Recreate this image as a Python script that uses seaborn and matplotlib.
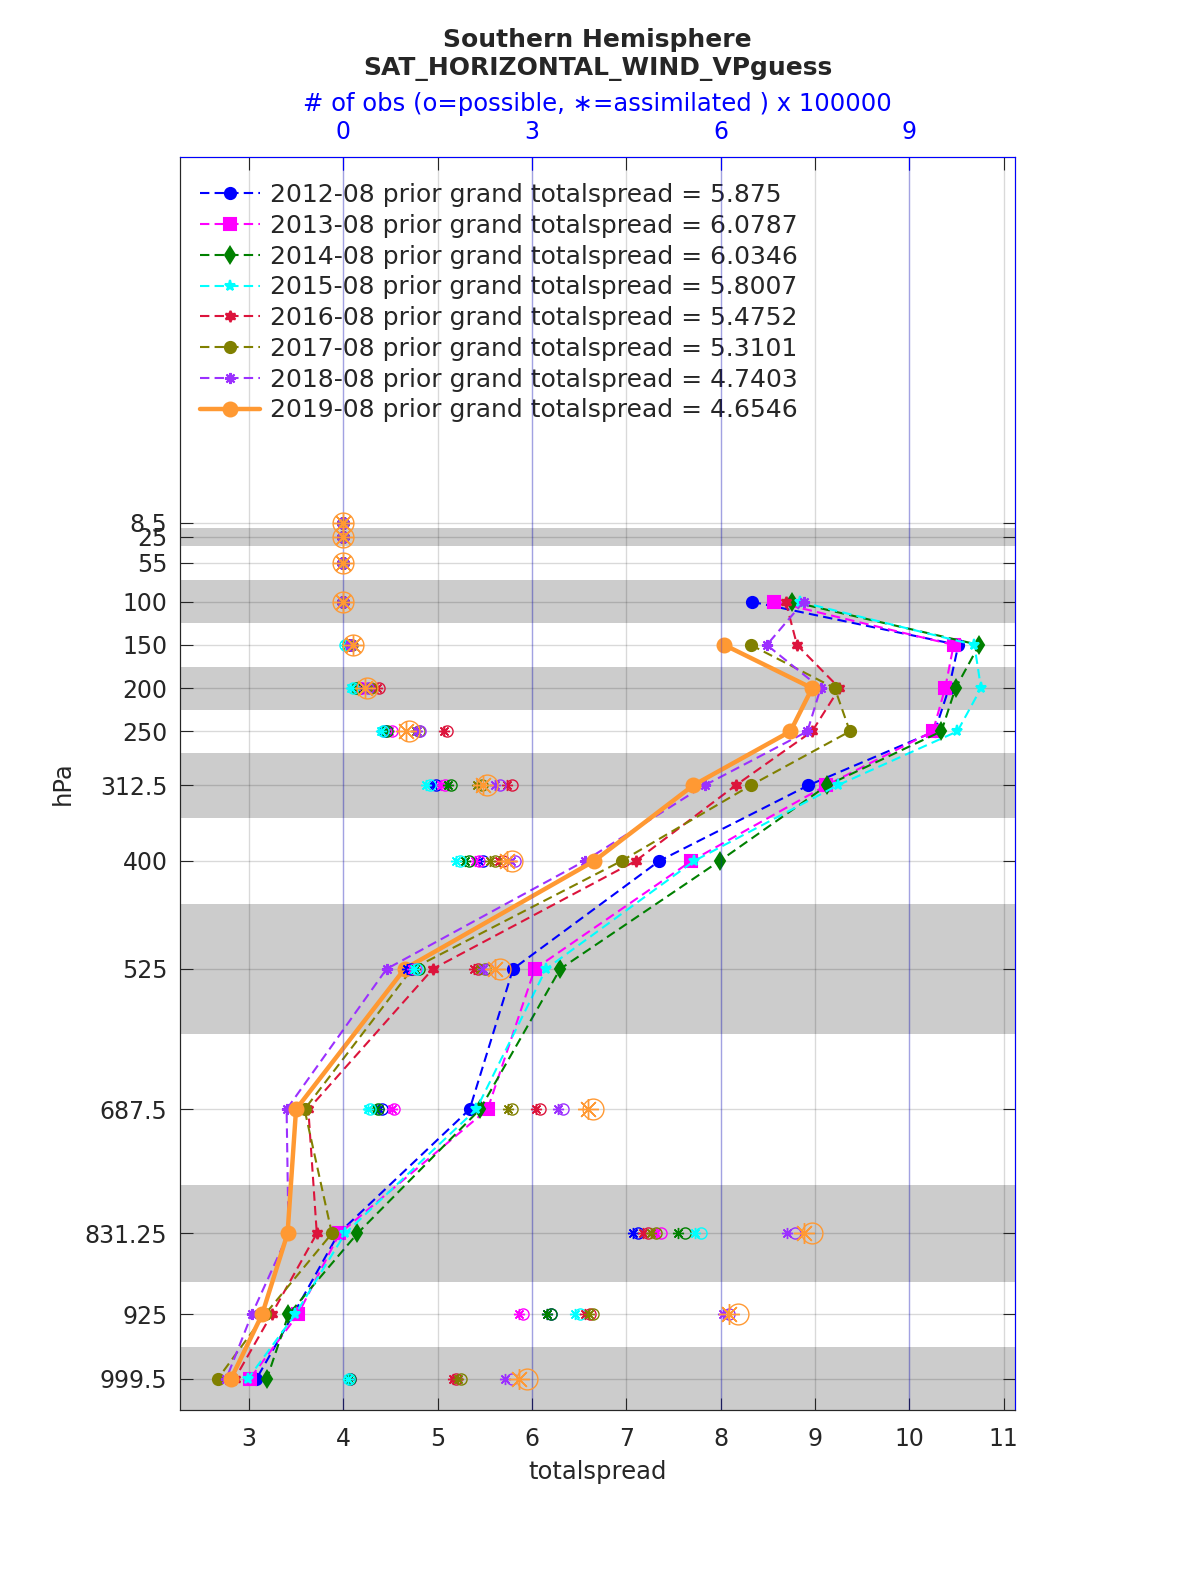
import numpy as np
import pandas as pd
import matplotlib
matplotlib.use("Agg")
import matplotlib.pyplot as plt
import seaborn as sns

nan = np.nan

levels = [8.5, 25, 55, 100, 150, 200, 250, 312.5, 400, 525, 687.5, 831.25, 925, 999.5]
level_labels = ["8.5", "25", "55", "100", "150", "200", "250", "312.5", "400",
                "525", "687.5", "831.25", "925", "999.5"]

# layer edges of the shaded bands (hPa)
band_lo = [15, 75, 175, 275, 450, 775, 962.5]
band_hi = [35, 125, 225, 350, 600, 887.5, 1036.5]

years = ["2012-08", "2013-08", "2014-08", "2015-08", "2016-08", "2017-08", "2018-08", "2019-08"]
grand = ["5.875", "6.0787", "6.0346", "5.8007", "5.4752", "5.3101", "4.7403", "4.6546"]

# prior totalspread per level
spread_2012 = [nan, nan, nan, 8.33, 10.52, 10.42, 10.27, 8.93, 7.35, 5.80, 5.34, 3.95, 3.47, 3.08]
spread_2013 = [nan, nan, nan, 8.57, 10.47, 10.38, 10.25, 9.12, 7.69, 6.03, 5.53, 3.96, 3.52, 3.01]
spread_2014 = [nan, nan, nan, 8.76, 10.74, 10.49, 10.34, 9.13, 7.99, 6.30, 5.45, 4.15, 3.42, 3.19]
spread_2015 = [nan, nan, nan, 8.84, 10.69, 10.76, 10.51, 9.24, 7.72, 6.15, 5.41, 4.02, 3.49, 2.99]
spread_2016 = [nan, nan, nan, 8.69, 8.81, 9.26, 8.97, 8.16, 7.10, 4.95, 3.63, 3.72, 3.24, 2.85]
spread_2017 = [nan, nan, nan, nan, 8.32, 9.21, 9.37, 8.32, 6.95, 4.73, 3.59, 3.88, 3.17, 2.67]
spread_2018 = [nan, nan, nan, 8.88, 8.49, 9.06, 8.92, 7.83, 6.56, 4.46, 3.40, 3.42, 3.03, 2.76]
spread_2019 = [nan, nan, nan, nan, 8.04, 8.97, 8.74, 7.71, 6.66, 4.65, 3.50, 3.41, 3.14, 2.81]

# number of obs (x 100000): possible and assimilated
poss_2012 = [0, 0, 0, 0, 0.08, 0.27, 0.66, 1.48, 2.23, 1.08, 0.61, 4.69, 3.31, 0.10]
assim_2012 = [0, 0, 0, 0, 0.07, 0.24, 0.62, 1.42, 2.16, 1.02, 0.57, 4.61, 3.24, 0.09]
poss_2013 = [0, 0, 0, 0, 0.09, 0.30, 0.77, 1.62, 2.16, 1.15, 0.81, 5.06, 2.86, 0.10]
assim_2013 = [0, 0, 0, 0, 0.08, 0.27, 0.72, 1.56, 2.09, 1.09, 0.77, 4.98, 2.80, 0.09]
poss_2014 = [0, 0, 0, 0, 0.08, 0.20, 0.70, 1.72, 2.00, 1.20, 0.56, 5.43, 3.31, 0.10]
assim_2014 = [0, 0, 0, 0, 0.07, 0.18, 0.66, 1.66, 1.93, 1.14, 0.52, 5.33, 3.24, 0.09]
poss_2015 = [0, 0, 0, 0, 0.03, 0.15, 0.64, 1.38, 1.86, 1.18, 0.43, 5.69, 3.76, 0.09]
assim_2015 = [0, 0, 0, 0, 0.03, 0.13, 0.60, 1.32, 1.80, 1.12, 0.40, 5.60, 3.69, 0.08]
poss_2016 = [0, 0, 0, 0, 0.12, 0.57, 1.65, 2.68, 2.54, 2.15, 3.13, 4.85, 3.92, 1.80]
assim_2016 = [0, 0, 0, 0, 0.11, 0.53, 1.60, 2.61, 2.47, 2.08, 3.06, 4.77, 3.85, 1.75]
poss_2017 = [0, 0, 0, 0, 0.14, 0.44, 1.20, 2.20, 2.41, 2.25, 2.69, 4.98, 3.97, 1.88]
assim_2017 = [0, 0, 0, 0, 0.13, 0.41, 1.15, 2.13, 2.34, 2.18, 2.62, 4.90, 3.90, 1.83]
poss_2018 = [0, 0, 0, 0, 0.12, 0.40, 1.22, 2.49, 2.73, 2.30, 3.50, 7.19, 6.14, 2.68]
assim_2018 = [0, 0, 0, 0, 0.11, 0.37, 1.17, 2.42, 2.66, 2.23, 3.42, 7.06, 6.04, 2.58]
poss_2019 = [0, 0, 0, 0, 0.16, 0.38, 1.05, 2.29, 2.68, 2.49, 3.97, 7.46, 6.27, 2.92]
assim_2019 = [0, 0, 0, 0, 0.15, 0.35, 1.00, 2.22, 2.61, 2.41, 3.89, 7.32, 6.14, 2.79]

spreads = [spread_2012, spread_2013, spread_2014, spread_2015,
           spread_2016, spread_2017, spread_2018, spread_2019]
possible = [poss_2012, poss_2013, poss_2014, poss_2015,
            poss_2016, poss_2017, poss_2018, poss_2019]
assimilated = [assim_2012, assim_2013, assim_2014, assim_2015,
               assim_2016, assim_2017, assim_2018, assim_2019]

colors = ["#0000ff", "#ff00ff", "#008000", "#00ffff", "#dc143c", "#808000", "#9b30ff", "#ff9933"]
markers = ["o", "s", "d", "*", (6, 1, 0), "o", (8, 2, 0), "o"]

sns.set_style("ticks")
plt.rcParams["font.family"] = ["DejaVu Sans"]

fig = plt.figure(figsize=(12, 15.75), dpi=100)
ax = fig.add_axes([0.15, 0.1048, 0.6958, 0.7956])
ax2 = ax.twiny()

# shaded layers
for lo, hi in zip(band_lo, band_hi):
    ax.axhspan(lo, hi, color="#cccccc", lw=0, zorder=0.8)

ax.set_axisbelow("line")
ax.grid(True, color="black", alpha=0.15, lw=1)

for i, yr in enumerate(years):
    df = pd.DataFrame({"spread": spreads[i], "level": levels}).dropna()
    last = i == len(years) - 1
    sns.lineplot(data=df, x="spread", y="level", ax=ax, sort=False, estimator=None,
                 color=colors[i], marker=markers[i],
                 linestyle="-" if last else (0, (4.5, 2.5)),
                 lw=3.2 if last else 1.5,
                 markersize=10 if last else 8,
                 markeredgewidth=1.5,
                 markeredgecolor=colors[i],
                 label=f"{yr} prior grand totalspread = {grand[i]}")

# obs counts on the top axis
for i, yr in enumerate(years):
    last = i == len(years) - 1
    ax2.plot(possible[i], levels, ls="none", marker="o", mfc="none",
             mec=colors[i], ms=15 if last else 8, mew=1)
    ax2.plot(assimilated[i], levels, ls="none", marker=(8, 2, 0),
             mec=colors[i], ms=15 if last else 8, mew=1)

ax.set_xlim(2.27, 11.12)
ax.set_ylim(1035.5, -415)
ax.set_xticks(range(3, 12))
ax.set_yticks(levels)
ax.set_yticklabels(level_labels)
ax.tick_params(direction="in", length=9, labelsize=17, top=True, right=True,
               labeltop=False, colors="#262626")
ax.tick_params(axis="x", pad=12)
ax.tick_params(axis="y", pad=9)
ax.set_xlabel("totalspread", fontsize=17.5, color="#262626", labelpad=7)
ax.set_ylabel("hPa", fontsize=17.5, color="#262626", labelpad=7)

ax2.set_xlim(1.5 * (2.27 - 4), 1.5 * (11.12 - 4))
ax2.set_xticks([0, 3, 6, 9])
ax2.tick_params(axis="x", direction="in", length=9, labelsize=17, colors="blue", pad=9)
ax2.grid(True, axis="x", color="blue", alpha=0.25, lw=1)
ax2.set_xlabel("# of obs (o=possible, \u2217=assimilated ) x 100000", color="blue",
               fontsize=17.5, labelpad=7)
ax2.spines["top"].set_color("blue")
ax2.spines["right"].set_color("blue")
for s in ["left", "bottom"]:
    ax.spines[s].set_color("#262626")

leg = ax.legend(loc="upper left", frameon=False, fontsize=18, handlelength=2.4,
                handletextpad=0.38, labelspacing=0.27, borderaxespad=0.65,
                bbox_to_anchor=(-0.007, 1.0))

fig.text(0.498, 1 - 40 / 1575, "Southern Hemisphere", ha="center", va="center",
         fontsize=18, fontweight="bold")
fig.text(0.498, 1 - 69 / 1575, "SAT_HORIZONTAL_WIND_VPguess", ha="center", va="center",
         fontsize=18, fontweight="bold")

fig.savefig("out.png", dpi=100)
